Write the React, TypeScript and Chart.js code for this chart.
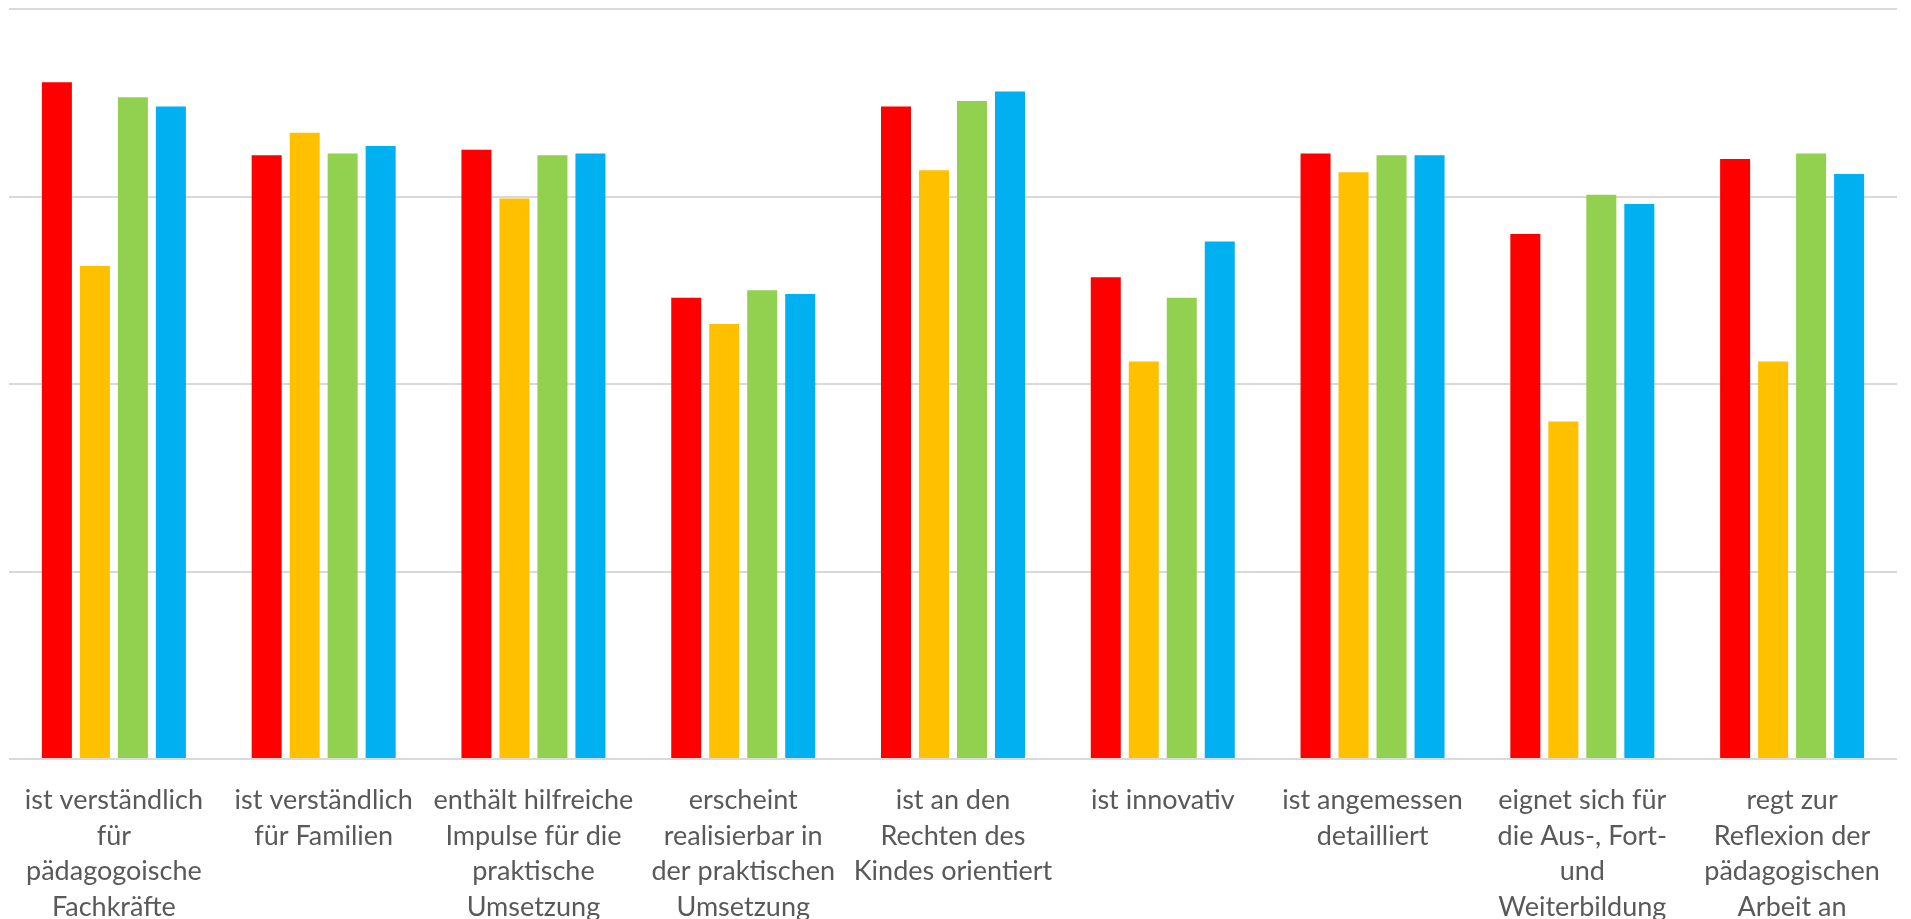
import React, { useEffect, useRef } from "react";
import { Chart, registerables } from "chart.js";

Chart.register(...registerables);

const categories: string[][] = [
  ["ist verständlich", "für", "pädagogoische", "Fachkräfte"],
  ["ist verständlich", "für Familien"],
  ["enthält hilfreiche", "Impulse für die", "praktische", "Umsetzung"],
  ["erscheint", "realisierbar in", "der praktischen", "Umsetzung"],
  ["ist an den", "Rechten des", "Kindes orientiert"],
  ["ist innovativ"],
  ["ist angemessen", "detailliert"],
  ["eignet sich für", "die Aus-, Fort-", "und", "Weiterbildung"],
  ["regt zur", "Reflexion der", "pädagogischen", "Arbeit an"],
];

const seriesRed = [3.61, 3.22, 3.25, 2.46, 3.48, 2.57, 3.23, 2.8, 3.2];
const seriesYellow = [2.63, 3.34, 2.99, 2.32, 3.14, 2.12, 3.13, 1.8, 2.12];
const seriesGreen = [3.53, 3.23, 3.22, 2.5, 3.51, 2.46, 3.22, 3.01, 3.23];
const seriesBlue = [3.48, 3.27, 3.23, 2.48, 3.56, 2.76, 3.22, 2.96, 3.12];

const seriesNames = ["Reihe 1", "Reihe 2", "Reihe 3", "Reihe 4"];
const seriesColors = ["#FF0000", "#FFC000", "#92D050", "#00B0F0"];
const yTicks = [0, 1, 2, 3, 4];

export default function App() {
  const ref = useRef<HTMLCanvasElement | null>(null);

  useEffect(() => {
    if (!ref.current) return;
    const values = [seriesRed, seriesYellow, seriesGreen, seriesBlue];
    const chart = new Chart(ref.current, {
      type: "bar",
      data: {
        labels: categories,
        datasets: values.map((v, i) => ({
          label: seriesNames[i],
          data: v,
          backgroundColor: seriesColors[i],
          borderWidth: 0,
          categoryPercentage: 0.7245,
          barPercentage: 0.79,
        })),
      },
      options: {
        animation: false,
        responsive: false,
        maintainAspectRatio: false,
        layout: { padding: { left: 9, right: 14, top: 9, bottom: 0 } },
        plugins: {
          legend: { display: false },
          tooltip: { enabled: false },
        },
        scales: {
          x: {
            grid: { display: false },
            border: { display: false },
            ticks: {
              color: "#595959",
              font: { family: "Lato", size: 27, lineHeight: 35.4 / 27 },
              padding: 16,
              maxRotation: 0,
              autoSkip: false,
            },
            afterFit: (axis: any) => {
              axis.height = 160;
            },
          },
          y: {
            min: yTicks[0],
            max: yTicks[yTicks.length - 1],
            afterBuildTicks: (axis: any) => {
              axis.ticks = yTicks.map((v) => ({ value: v }));
            },
            grid: { color: "#D9D9D9", lineWidth: 2, drawTicks: false },
            border: { display: false },
            ticks: { display: false },
            afterFit: (axis: any) => {
              axis.width = 0;
            },
          },
        },
      },
    });
    return () => chart.destroy();
  }, []);

  return (
    <div
      style={{
        position: "fixed",
        left: 0,
        top: 0,
        width: 1911,
        height: 919,
        overflow: "hidden",
        background: "#fff",
      }}
    >
      <canvas ref={ref} width={1911} height={919} style={{ display: "block" }} />
    </div>
  );
}
